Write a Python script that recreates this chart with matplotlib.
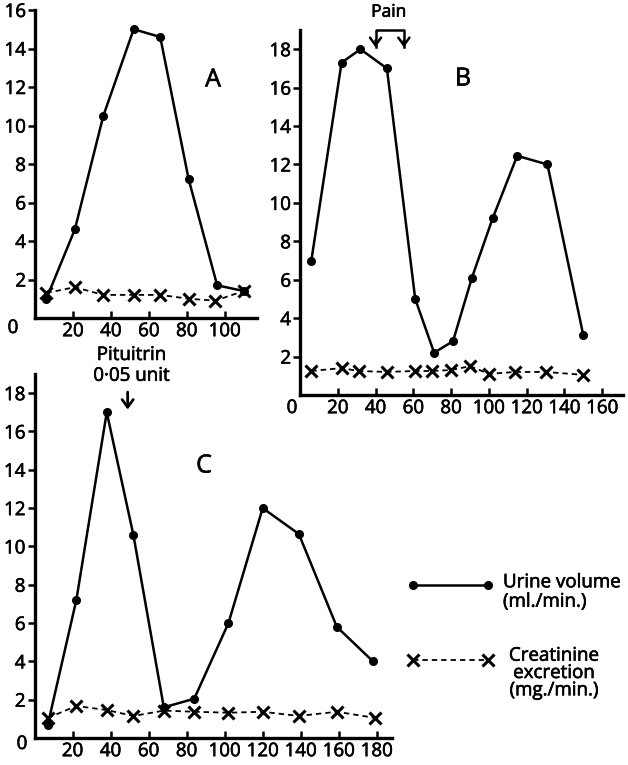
import matplotlib
matplotlib.use("Agg")
import matplotlib.pyplot as plt
from matplotlib.lines import Line2D
import matplotlib.patheffects as pe

plt.rcParams['font.family'] = ['Open Sans', 'DejaVu Sans']

# Panel A
a_time = [6, 21, 36, 52, 66, 81, 96, 110]
a_urine = [1.0, 4.6, 10.5, 15.0, 14.6, 7.2, 1.7, 1.4]
a_creat_time = [6, 21, 36, 52, 66, 81, 95, 110]
a_creat = [1.3, 1.6, 1.2, 1.2, 1.2, 1.0, 0.9, 1.4]

# Panel B
b_time = [6, 22, 32, 46, 61, 71, 81, 91, 102, 115, 131, 150]
b_urine = [7.0, 17.3, 18.0, 17.0, 5.0, 2.2, 2.8, 6.1, 9.2, 12.45, 12.0, 3.1]
b_creat_time = [6, 22, 31, 46, 61, 70, 80, 90, 100, 114, 130, 150]
b_creat = [1.25, 1.4, 1.25, 1.2, 1.25, 1.25, 1.3, 1.5, 1.1, 1.2, 1.2, 1.05]

# Panel C
c_time = [7, 22, 38, 52, 68, 84, 102, 120, 139, 159, 178]
c_urine = [0.7, 7.2, 17.0, 10.6, 1.6, 2.05, 6.0, 12.0, 10.65, 5.8, 4.0]
c_creat_time = [7, 22, 38, 52, 68, 84, 102, 120, 139, 159, 179]
c_creat = [1.05, 1.67, 1.46, 1.15, 1.43, 1.37, 1.32, 1.37, 1.15, 1.37, 1.05]

a_xticks = [20, 40, 60, 80, 100]
a_yticks = [2, 4, 6, 8, 10, 12, 14, 16]
b_xticks = [20, 40, 60, 80, 100, 120, 140, 160]
b_yticks = [2, 4, 6, 8, 10, 12, 14, 16, 18]
c_xticks = [20, 40, 60, 80, 100, 120, 140, 160, 180]
c_yticks = [2, 4, 6, 8, 10, 12, 14, 16, 18]

W, H = 628, 765
fig = plt.figure(figsize=(W / 100, H / 100), dpi=100)
BOLD = [pe.withStroke(linewidth=0.45, foreground='black')]

def px_axes(x0, y0_bottom, x1, y1_top):
    return fig.add_axes([x0 / W, (H - y0_bottom) / H, (x1 - x0) / W, (y0_bottom - y1_top) / H])

FS = 13.5
axA = px_axes(35, 318, 257, 10)
axB = px_axes(300, 395, 623, 30)
axC = px_axes(34.5, 738, 392, 374)

def style(ax, xlim, ylim, xt, yt):
    ax.set_xlim(*xlim)
    ax.set_ylim(*ylim)
    for s in ['top', 'right']:
        ax.spines[s].set_visible(False)
    for s in ['left', 'bottom']:
        ax.spines[s].set_linewidth(2.4)
    ax.set_xticks(xt)
    ax.set_yticks(yt)
    ax.tick_params(axis='x', direction='in', length=5, width=1.8, pad=3, labelsize=FS)
    ax.tick_params(axis='y', direction='out', length=5, width=1.8, pad=1.5, labelsize=FS)
    for lab in ax.get_xticklabels() + ax.get_yticklabels():
        lab.set_path_effects(BOLD)
    ax.patch.set_visible(False)

def draw(ax, t, u, ct, c):
    ax.plot(t, u, color='black', lw=1.8, marker='o', ms=5.5, clip_on=False, zorder=3)
    ax.plot(ct, c, color='black', lw=1.3, ls=(0, (3, 2.2)), marker='x', ms=8, mew=2.2,
            clip_on=False, zorder=3)

style(axA, (0, 117), (0, 16), a_xticks, a_yticks)
draw(axA, a_time, a_urine, a_creat_time, a_creat)
style(axB, (0, 171), (0, 19), b_xticks, b_yticks)
draw(axB, b_time, b_urine, b_creat_time, b_creat)
style(axC, (0, 188), (0, 19), c_xticks, c_yticks)
draw(axC, c_time, c_urine, c_creat_time, c_creat)

def T(x, y, s, **kw):
    kw.setdefault('path_effects', BOLD)
    return fig.text(x / W, 1 - y / H, s, **kw)

# zero labels
T(13, 328, '0', ha='center', va='center', fontsize=FS)
T(292, 408, '0', ha='center', va='center', fontsize=FS)
T(22, 744, '0', ha='center', va='center', fontsize=FS)

# panel letters
T(213, 80, 'A', ha='center', va='center', fontsize=18)
T(463, 79, 'B', ha='center', va='center', fontsize=18)
T(204, 466, 'C', ha='center', va='center', fontsize=18)

# Pain annotation (panel B)
axB.text(47, 19.9, 'Pain', ha='center', va='center', fontsize=12.5, path_effects=BOLD)
axB.plot([40, 40, 55, 55], [18.1, 19.0, 19.0, 18.1], color='black', lw=1.8, clip_on=False)
for xx in (40, 55):
    axB.annotate('', xy=(xx, 17.95), xytext=(xx, 18.6),
                 arrowprops=dict(arrowstyle='->,head_width=0.4,head_length=0.55', lw=1.8, color='black'),
                 annotation_clip=False)

# Pituitrin annotation (panel C)
axC.text(51, 19.45, 'Pituitrin\n0·05 unit', ha='center', va='center', fontsize=FS,
         linespacing=1.2, path_effects=BOLD)
axC.annotate('', xy=(49, 17.0), xytext=(49, 18.2),
             arrowprops=dict(arrowstyle='->,head_width=0.4,head_length=0.55', lw=2.0, color='black'),
             annotation_clip=False)

# legend
def fx(x): return x / W
def fy(y): return 1 - y / H
fig.add_artist(Line2D([fx(413), fx(488)], [fy(585), fy(585)], color='black', lw=1.8,
                      marker='o', ms=5.5))
T(503, 592, 'Urine volume\n(ml./min.)', ha='left', va='center', fontsize=FS, linespacing=1.1)
fig.add_artist(Line2D([fx(413), fx(488)], [fy(660), fy(660)], color='black', lw=1.3,
                      ls=(0, (3, 2.2)), marker='x', ms=8, mew=2.2))
T(554, 673, 'Creatinine\nexcretion\n(mg./min.)', ha='center', va='center',
  fontsize=FS, linespacing=0.95, multialignment='center')

fig.savefig('out.png', dpi=100, facecolor='white')
